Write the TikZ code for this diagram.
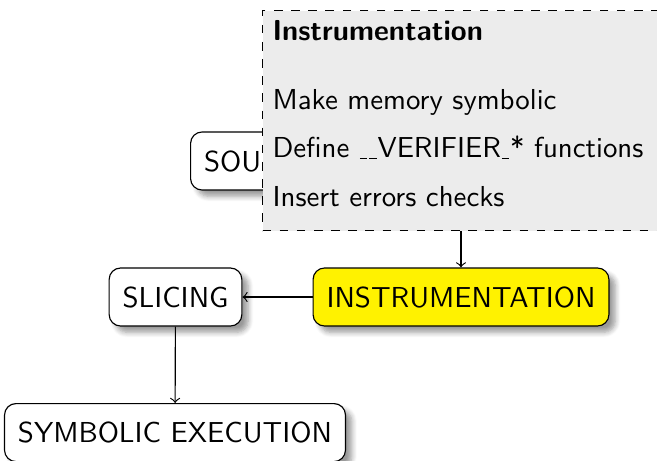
\documentclass[tikz,border=0pt]{standalone}
\usepackage{fontspec}
\usetikzlibrary{shapes.geometric, arrows, shadows.blur, positioning}
\renewcommand{\familydefault}{\sfdefault}
\newcommand{\uscore}{\kern0.03em\rule[-0.35pt]{0.26em}{0.4pt}\kern0.03em}

\begin{document}
\begin{tikzpicture}[x=0.35pt, y=-0.35pt, >=to,
				font=\sffamily\fontsize{10.1}{17}\selectfont]
					\tikzstyle{phase}=[rectangle, rounded corners=4pt, minimum height=20.3pt, inner xsep=4.7pt, text centered, draw=black, fill=white, blur shadow={shadow blur steps=6}]
					\tikzstyle{callout}=[rectangle, draw=black, dashed, fill=gray!15, minimum width=160pt, minimum height=77pt, anchor=north west]
					\useasboundingbox (0,0) rectangle (657,460);
					% phases
					\node[phase, anchor=west] (source) at (190,161) {SOURCE};
					\node[phase] (slicing) at (175.5,297) {SLICING};
					\node[phase, fill=yellow] (instr) at (461,297) {INSTRUMENTATION};
					\node[phase, anchor=north] (symex) at (175,403) {SYMBOLIC EXECUTION};
					% edges
					\draw[->] (source) -| (instr);
					\draw[->] (instr) -- (slicing);
					\draw[->] (slicing) -- (symex);
					% note on the instrumentation step
					\node[callout] (note) at (262,10) {};
					\node[anchor=north west, align=left, inner sep=0pt] (notetext) at (272,20) {\textbf{Instrumentation}\\[7pt]
						Make memory symbolic\\
						Define \uscore\uscore VERIFIER\uscore* functions\\
						Insert errors checks};
				\end{tikzpicture}
\end{document}
